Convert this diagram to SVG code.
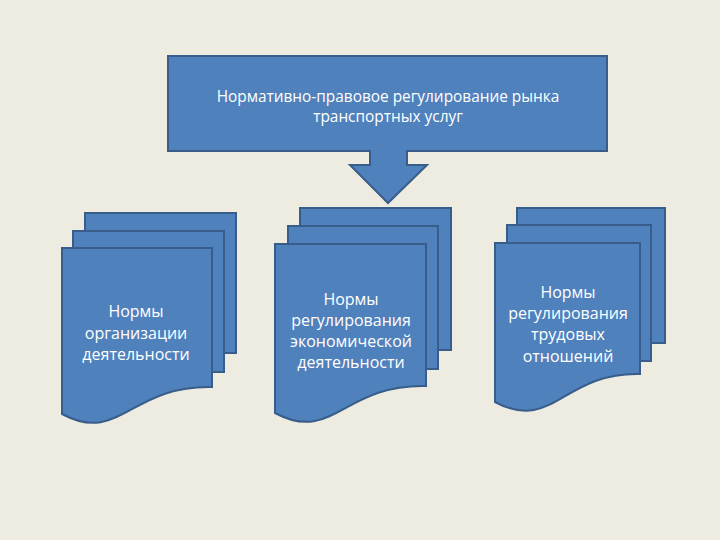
<svg xmlns="http://www.w3.org/2000/svg" width="720" height="540" viewBox="0 0 720 540">
<style>
.bg{fill:#EEECE1}
.shape{fill:#4F81BD;stroke:#385D8A;stroke-width:2;stroke-linejoin:miter}
.t{font-family:"Open Sans","Noto Sans","Liberation Sans",sans-serif;font-size:16px;fill:#FFFFFF;text-anchor:middle}
.tt{font-size:15.4px}
</style>
<rect class="bg" x="0" y="0" width="720" height="540"/>
<g id="connectors"/>
<g id="node-top">
<path class="shape" d="M168,56 H607 V151 H407 V165 H427 L388,203 L350,165 H370 V151 H168 Z"/>
<text class="t tt" x="388" y="102">Нормативно-правовое регулирование рынка</text>
<text class="t tt" x="388" y="122">транспортных услуг</text>
</g>
<g id="node-org">
<rect class="shape" x="85" y="213" width="151" height="140"/>
<rect class="shape" x="73" y="231" width="151" height="141"/>
<path class="shape" d="M62,248 H212 V387 C130,385 120,445 62,414 Z"/>
<text class="t" x="136" y="317">Нормы</text>
<text class="t" x="136" y="339">организации</text>
<text class="t" x="136" y="360">деятельности</text>
</g>
<g id="node-econ">
<rect class="shape" x="300" y="208" width="151" height="142"/>
<rect class="shape" x="288" y="226" width="150" height="143"/>
<path class="shape" d="M275,244 H426 V386 C343,384 333,444 275,413 Z"/>
<text class="t" x="351" y="305">Нормы</text>
<text class="t" x="351" y="326">регулирования</text>
<text class="t" x="351" y="347">экономической</text>
<text class="t" x="351" y="368">деятельности</text>
</g>
<g id="node-labor">
<rect class="shape" x="517" y="208" width="148" height="135"/>
<rect class="shape" x="507" y="225" width="144" height="136"/>
<path class="shape" d="M495,243 H640 V374 C563,372 553,433 495,402 Z"/>
<text class="t" x="568" y="298">Нормы</text>
<text class="t" x="568" y="319">регулирования</text>
<text class="t" x="568" y="340">трудовых</text>
<text class="t" x="568" y="362">отношений</text>
</g>
</svg>
